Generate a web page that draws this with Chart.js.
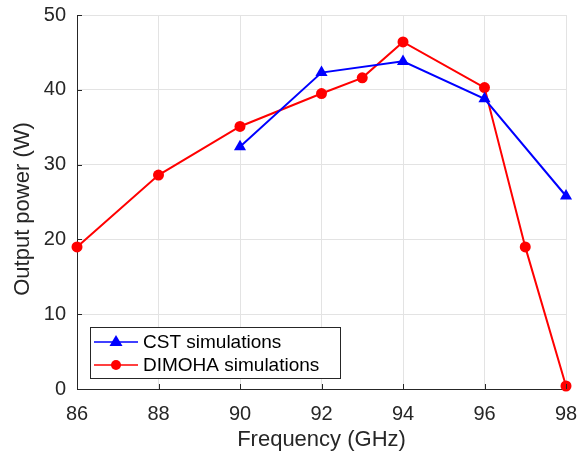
<!DOCTYPE html>
<html>
<head>
<meta charset="utf-8">
<script src="https://cdn.jsdelivr.net/npm/chart.js@4/dist/chart.umd.min.js"></script>
<style>
  html, body { margin: 0; padding: 0; background: #fff; }
  #wrap { width: 585px; height: 457px; position: relative; }
</style>
</head>
<body>
<div id="wrap"><canvas id="power-chart" width="585" height="457"></canvas></div>
<script>
// Output power vs frequency
const cstFreq = [90, 92, 94, 96, 98];
const cstPower = [32.4, 42.3, 43.8, 38.8, 25.8];
const dimohaFreq = [86, 88, 90, 92, 93, 94, 96, 97, 98];
const dimohaPower = [19.0, 28.6, 35.1, 39.5, 41.6, 46.4, 40.3, 19.0, 0.4];
const xTicks = [86, 88, 90, 92, 94, 96, 98];
const yTicks = [0, 10, 20, 30, 40, 50];

const fontFamily = '"Liberation Sans", Arial, Helvetica, sans-serif';

// legend box inside the axes, lower left
const boxLegend = {
    id: 'boxLegend',
    afterDraw(chart) {
        const ctx = chart.ctx;
        const x0 = 90, y0 = 327, w = 250, h = 51;
        ctx.save();
        ctx.fillStyle = '#fff';
        ctx.fillRect(x0, y0, w, h);
        ctx.strokeStyle = '#262626';
        ctx.lineWidth = 1;
        ctx.strokeRect(x0 + 0.5, y0 + 0.5, w, h);
        chart.data.datasets.forEach((ds, i) => {
            const y = y0 + 15 + i * 23;
            ctx.strokeStyle = ds.borderColor;
            ctx.lineWidth = 1.5;
            ctx.beginPath();
            ctx.moveTo(x0 + 4, y);
            ctx.lineTo(x0 + 48, y);
            ctx.stroke();
            ctx.fillStyle = ds.backgroundColor;
            ctx.beginPath();
            if (ds.pointStyle === 'triangle') {
                ctx.moveTo(x0 + 26, y - 7);
                ctx.lineTo(x0 + 32.5, y + 4);
                ctx.lineTo(x0 + 19.5, y + 4);
                ctx.closePath();
            } else {
                ctx.arc(x0 + 26, y, 5, 0, Math.PI * 2);
            }
            ctx.fill();
            ctx.fillStyle = '#000';
            ctx.font = '19px ' + fontFamily;
            ctx.textBaseline = 'middle';
            ctx.fillText(ds.label, x0 + 53, y + 1);
        });
        ctx.restore();
    }
};

// y title drawn by hand so it sits where the original has it
const yTitle = {
    id: 'yTitle',
    afterDraw(chart) {
        const ctx = chart.ctx;
        ctx.save();
        ctx.translate(29, 209);
        ctx.rotate(-Math.PI / 2);
        ctx.fillStyle = '#262626';
        ctx.font = '22px ' + fontFamily;
        ctx.textAlign = 'center';
        ctx.textBaseline = 'alphabetic';
        ctx.fillText('Output power (W)', 0, 0);
        ctx.restore();
    }
};

// small inward tick marks like the original
const innerTicks = {
    id: 'innerTicks',
    afterDatasetsDraw(chart) {
        const ctx = chart.ctx;
        const xs = chart.scales.x, ys = chart.scales.y;
        const area = chart.chartArea;
        ctx.save();
        ctx.strokeStyle = '#262626';
        ctx.lineWidth = 1;
        ctx.beginPath();
        xTicks.forEach(v => {
            const px = Math.round(xs.getPixelForValue(v)) + 0.5;
            ctx.moveTo(px, area.bottom);
            ctx.lineTo(px, area.bottom - 5);
        });
        yTicks.forEach(v => {
            const py = Math.round(ys.getPixelForValue(v)) + 0.5;
            ctx.moveTo(area.left, py);
            ctx.lineTo(area.left + 5, py);
        });
        ctx.stroke();
        ctx.restore();
    }
};

new Chart(document.getElementById('power-chart').getContext('2d'), {
    type: 'line',
    data: {
        datasets: [{
            label: 'CST simulations',
            data: cstFreq.map((f, i) => ({ x: f, y: cstPower[i] })),
            borderColor: '#0000ff',
            backgroundColor: '#0000ff',
            borderWidth: 2,
            pointStyle: 'triangle',
            pointRadius: 7,
            pointBorderWidth: 0,
            tension: 0
        }, {
            label: 'DIMOHA simulations',
            data: dimohaFreq.map((f, i) => ({ x: f, y: dimohaPower[i] })),
            borderColor: '#ff0000',
            backgroundColor: '#ff0000',
            borderWidth: 2,
            pointStyle: 'circle',
            pointRadius: 5.5,
            pointBorderWidth: 0,
            tension: 0
        }]
    },
    options: {
        responsive: false,
        animation: false,
        clip: false,
        layout: { padding: { top: 15, right: 19, left: 0, bottom: 0 } },
        plugins: {
            legend: { display: false },
            tooltip: { enabled: false }
        },
        scales: {
            x: {
                type: 'linear',
                min: 86,
                max: 98,
                afterBuildTicks: axis => { axis.ticks = xTicks.map(v => ({ value: v })); },
                afterFit: axis => {
                    axis.height = 68;
                    axis.paddingLeft = 0;
                    axis.paddingRight = 0;
                },
                grid: { color: '#e3e3e3', drawTicks: false, lineWidth: 1 },
                border: { display: true, color: '#262626', width: 1 },
                ticks: {
                    color: '#262626',
                    padding: 13,
                    maxRotation: 0,
                    font: { family: fontFamily, size: 20 }
                },
                title: {
                    display: true,
                    text: 'Frequency (GHz)',
                    color: '#262626',
                    padding: { top: 0 },
                    font: { family: fontFamily, size: 22 }
                }
            },
            y: {
                min: 0,
                max: 50,
                afterBuildTicks: axis => { axis.ticks = yTicks.map(v => ({ value: v })); },
                afterFit: axis => {
                    axis.width = 77;
                    axis.paddingTop = 0;
                    axis.paddingBottom = 0;
                },
                grid: { color: '#e3e3e3', drawTicks: false, lineWidth: 1 },
                border: { display: true, color: '#262626', width: 1 },
                ticks: {
                    color: '#262626',
                    padding: 11,
                    font: { family: fontFamily, size: 20 }
                }
            }
        }
    },
    plugins: [innerTicks, boxLegend, yTitle]
});
</script>
</body>
</html>
